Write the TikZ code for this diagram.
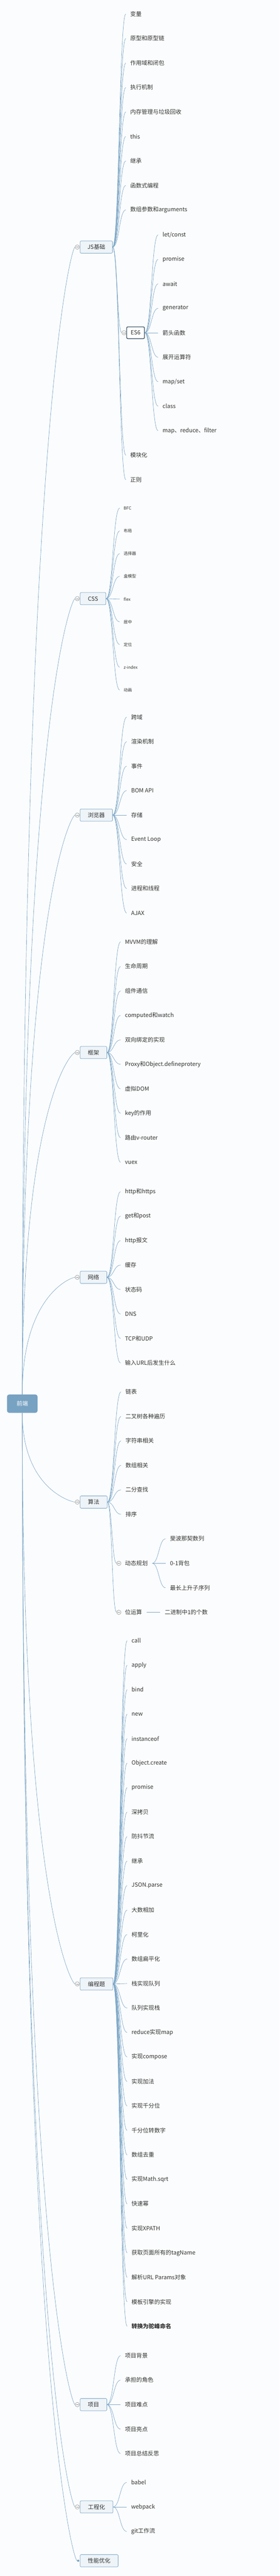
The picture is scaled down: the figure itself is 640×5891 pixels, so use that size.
\documentclass[tikz,border=0pt]{standalone}
\usepackage{fontspec}
\setmainfont{Noto Sans CJK SC}
\usetikzlibrary{calc}
\definecolor{bg}{HTML}{FBFCFD}
\definecolor{ln}{HTML}{7DA7C7}
\definecolor{boxb}{HTML}{7BA4C4}
\definecolor{boxf}{HTML}{EEF4F8}
\definecolor{rootc}{HTML}{77A2C2}
\definecolor{es}{HTML}{3F5769}
\definecolor{txt}{HTML}{333333}
\definecolor{cb}{HTML}{8C8C8C}
\newcommand{\fs}[1]{\fontsize{#1pt}{#1pt}\selectfont}
\pgfdeclarelayer{bgl}
\pgfdeclarelayer{lines}
\pgfsetlayers{bgl,lines,main}
\tikzset{
 rootbox/.style={rectangle, rounded corners=5pt, fill=rootc, text=white, minimum width=70pt, minimum height=42pt, inner sep=0pt, font=\fs{13}},
 branch/.style={rectangle, rounded corners=2.5pt, draw=boxb, fill=boxf, line width=0.9pt, minimum height=28pt, inner xsep=4pt, inner ysep=0pt, anchor=west, text=txt, font=\fs{13}},
 leaf/.style={inner xsep=10pt, inner ysep=2pt, anchor=west, text=txt, font=\fs{13}},
 small/.style={font=\fs{9.5}, inner xsep=9pt},
 es6box/.style={rectangle, rounded corners=3pt, draw=es, fill=white, line width=1.6pt, minimum width=41pt, minimum height=27pt, inner sep=0pt, anchor=west, text=txt, font=\fs{13}},
 coll/.style={circle, draw=cb, fill=white, line width=0.7pt, minimum size=10pt, inner sep=0pt, path picture={\draw[cb, line width=0.7pt] ([xshift=-3pt]path picture bounding box.center) -- ([xshift=3pt]path picture bounding box.center);}},
 dotn/.style={circle, fill=rootc, minimum size=5pt, inner sep=0pt},
 conn/.style={draw=ln, line width=0.8pt},
 sc/.style={to path={let \p1=(\tikztostart), \p2=(\tikztotarget) in .. controls ({(\x1+\x2)/2},\y1) and ({(\x1+\x2)/2},\y2) .. (\p2)}},
 rc/.style={to path={let \p1=(\tikztostart), \p2=(\tikztotarget) in .. controls (\x1,{\y1+0.85*(\y2-\y1)}) and ({\x2-8pt},\y2) .. (\p2)}},
}
% #1 parent, #2 prefix, #3 extra style, #4 x, #5 y0, #6 step, #7 list
\newcommand{\mkgroup}[7]{%
 \foreach \t [count=\i from 0] in {#7} {
   \node[leaf,#3] (#2\i) at (#4,{#5+#6*\i}) {\t};
   \begin{pgfonlayer}{lines}\draw[conn] (#1.east) to[sc] (#2\i.west);\end{pgfonlayer}
 }}
\begin{document}
\begin{tikzpicture}[x=1pt,y=-1pt]
\begin{pgfonlayer}{bgl}
\fill[bg] (0,0) rectangle (640,5891);
\end{pgfonlayer}
\useasboundingbox (0,0) rectangle (640,5891);

% root
\node[rootbox] (root) at (51,3210) {前端};

% branches
\node[branch, minimum width=74pt] (js) at (183,565) {JS基础};
\node[coll] (cjs) at (177,565) {};
\node[branch, minimum width=59pt] (css) at (183,1369) {CSS};
\node[coll] (ccss) at (177,1369) {};
\node[branch, minimum width=74pt] (br) at (183,1864) {浏览器};
\node[coll] (cbr) at (177,1864) {};
\node[branch, minimum width=61pt] (fw) at (183,2407) {框架};
\node[coll] (cfw) at (177,2407) {};
\node[branch, minimum width=61pt] (net) at (183,2921) {网络};
\node[coll] (cnet) at (177,2921) {};
\node[branch, minimum width=62pt] (alg) at (183,3435) {算法};
\node[coll] (calg) at (177,3435) {};
\node[branch, minimum width=75pt] (prog) at (183,4537) {编程题};
\node[coll] (cprog) at (177,4537) {};
\node[branch, minimum width=61pt] (proj) at (183,5499) {项目};
\node[coll] (cproj) at (177,5499) {};
\node[branch, minimum width=75pt] (eng) at (183,5733) {工程化};
\node[coll] (ceng) at (177,5733) {};
\node[branch, minimum width=87pt] (perf) at (183,5856) {性能优化};
\node[dotn] (dperf) at (179,5856) {};

\begin{pgfonlayer}{lines}
\draw[conn] (root.north) to[rc] (cjs.west);
\draw[conn] (root.north) to[rc] (ccss.west);
\draw[conn] (root.north) to[rc] (cbr.west);
\draw[conn] (root.north) to[rc] (cfw.west);
\draw[conn] (root.north) to[rc] (cnet.west);
\draw[conn] (root.south) to[rc] (calg.west);
\draw[conn] (root.south) to[rc] (cprog.west);
\draw[conn] (root.south) to[rc] (cproj.west);
\draw[conn] (root.south) to[rc] (ceng.west);
\draw[conn] (root.south) to[rc] (dperf.west);
\end{pgfonlayer}

% JS
\mkgroup{js}{j}{}{288}{32}{56}{变量,原型和原型链,作用域和闭包,执行机制,内存管理与垃圾回收,this,继承,函数式编程,数组参数和arguments}
\node[es6box] (es6) at (289,761) {ES6};
\node[coll] (ces) at (284,761) {};
\node[leaf] (jmod) at (288,1041) {模块化};
\node[leaf] (jreg) at (288,1097) {正则};
\begin{pgfonlayer}{lines}
\draw[conn] (js.east) to[sc] (ces.west);
\draw[conn] (js.east) to[sc] (jmod.west);
\draw[conn] (js.east) to[sc] (jreg.west);
\end{pgfonlayer}
\mkgroup{es6}{e}{}{362}{537}{56}{let/const,promise,await,generator,箭头函数,展开运算符,map/set,class,map、reduce、filter}

% CSS
\mkgroup{css}{s}{small}{274}{1162}{52}{BFC,布局,选择器,盒模型,flex,居中,定位,z-index,动画}

% browser
\mkgroup{br}{b}{}{290}{1640}{56}{跨域,渲染机制,事件,BOM API,存储,Event Loop,安全,进程和线程,AJAX}

% framework
\mkgroup{fw}{f}{}{276}{2154}{56}{MVVM的理解,生命周期,组件通信,computed和watch,双向绑定的实现,Proxy和Object.defineprotery,虚拟DOM,key的作用,路由v-router,vuex}

% network
\mkgroup{net}{n}{}{276}{2725}{56}{http和https,get和post,http报文,缓存,状态码,DNS,TCP和UDP,输入URL后发生什么}

% algorithm
\mkgroup{alg}{a}{}{277}{3183}{56}{链表,二叉树各种遍历,字符串相关,数组相关,二分查找,排序}
\node[leaf] (dp) at (276,3575) {动态规划};
\node[coll] (cdp) at (272,3575) {};
\node[leaf] (bit) at (276,3687) {位运算};
\node[coll] (cbit) at (272,3687) {};
\node[leaf] (bit1) at (367,3687) {二进制中1的个数};
\begin{pgfonlayer}{lines}
\draw[conn] (alg.east) to[sc] (cdp.west);
\draw[conn] (alg.east) to[sc] (cbit.west);
\draw[conn] (bit.east) -- (bit1.west);
\end{pgfonlayer}
\mkgroup{dp}{d}{}{379}{3519}{56}{斐波那契数列,0-1背包,最长上升子序列}

% programming
\mkgroup{prog}{p}{}{291}{3752}{56}{call,apply,bind,new,instanceof,Object.create,promise,深拷贝,防抖节流,继承,JSON.parse,大数相加,柯里化,数组扁平化,栈实现队列,队列实现栈,reduce实现map,实现compose,实现加法,实现千分位,千分位转数字,数组去重,实现Math.sqrt,快速幂,实现XPATH,获取页面所有的tagName,解析URL Params对象,模板引擎的实现,\textbf{转换为驼峰命名}}

% project
\mkgroup{proj}{r}{}{276}{5387}{56}{项目背景,承担的角色,项目难点,项目亮点,项目总结反思}

% engineering
\mkgroup{eng}{g}{}{290}{5677}{56}{babel,webpack,git工作流}
\end{tikzpicture}
\end{document}
